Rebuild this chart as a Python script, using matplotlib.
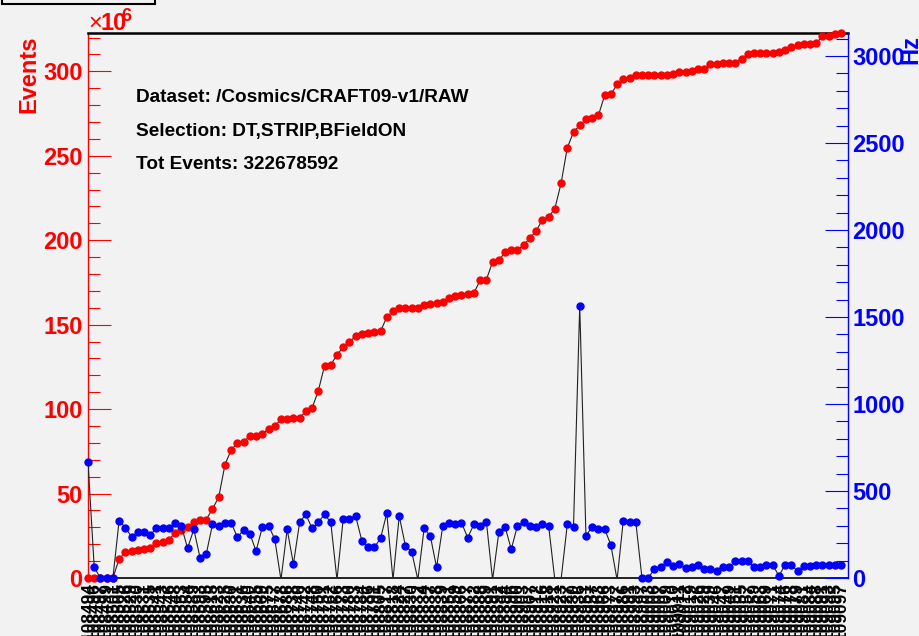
import numpy as np
import matplotlib
matplotlib.use("Agg")
import matplotlib.pyplot as plt
from matplotlib.ticker import MultipleLocator
from matplotlib.patches import Rectangle

plt.rcParams['font.family'] = ['Liberation Sans', 'DejaVu Sans']

# run numbers used as bin labels
runs = [
    "108494", "108496", "108497", "108499", "108501", "108505", "108526", "108529", "108530", "108531",
    "108535", "108541", "108543", "108546", "108548", "108553", "108554", "108589", "108593", "108595",
    "108615", "108623", "108625", "108630", "108631", "108636", "108640", "108655", "108669", "108675",
    "108677", "108678", "108686", "108738", "108740", "108742", "108748", "108750", "108751", "108762",
    "108766", "108773", "108780", "108783", "108784", "108786", "108791", "108805", "108817", "108818",
    "108824", "108827", "108830", "108832", "108834", "108837", "108838", "108839", "108851", "108859",
    "108866", "108877", "108882", "108888", "108889", "108891", "108892", "108894", "108896", "108900",
    "108903", "108907", "108912", "108916", "108918", "108921", "108923", "108927", "108930", "108936",
    "108951", "108957", "108963", "108966", "108973", "108977", "108986", "108991", "108993", "108997",
    "109003", "109006", "109007", "109009", "109010", "109011", "109012", "109019", "109026", "109029",
    "109039", "109046", "109047", "109049", "109051", "109055", "109057", "109059", "109063", "109069",
    "109071", "109074", "109076", "109078", "109079", "109081", "109084", "109088", "109091", "109093",
    "109095", "109097",
]

# cumulative selected events (millions)
events_m = [
    0, 0, 0, 0, 0, 11.3, 15.2, 16.2, 16.8, 17.4,
    17.8, 20.9, 21.3, 22.5, 26.9, 28.5, 30.0, 33.0, 34.4, 34.6,
    40.9, 47.8, 67.0, 75.9, 79.8, 80.8, 83.8, 84.0, 85.4, 88.1,
    89.7, 94.1, 94.2, 94.7, 94.9, 98.6, 100.6, 110.8, 125.7, 126.3,
    132.0, 136.8, 139.7, 143.3, 144.2, 145.0, 145.4, 146.0, 154.5, 157.9,
    159.9, 160.0, 160.0, 160.1, 161.8, 162.4, 162.6, 163.2, 165.8, 166.7,
    167.3, 168.3, 168.8, 176.2, 176.6, 187.1, 188.1, 192.8, 194.0, 194.4,
    197.0, 201.4, 205.3, 212.2, 213.8, 218.7, 233.6, 254.7, 264.0, 268.1,
    271.5, 272.5, 273.9, 285.7, 286.3, 292.2, 295.2, 296.0, 297.6, 297.6,
    297.6, 297.6, 297.6, 297.6, 298.2, 299.5, 299.6, 300.1, 301.5, 301.6,
    304.1, 304.2, 304.7, 305.1, 305.2, 307.5, 310.0, 310.6, 310.7, 311.0,
    311.1, 311.4, 312.6, 314.6, 315.6, 316.0, 316.1, 316.5, 320.9, 321.0,
    321.9, 322.678592,
]

# trigger rate per run (Hz); negative = no valid rate
rate_hz = [
    665, 61, 0, 0, 0, 330, 289, 237, 262, 262,
    247, 289, 289, 289, 314, 299, 171, 280, 117, 138,
    308, 301, 318, 318, 234, 276, 255, 155, 291, 301,
    224, -10, 280, 80, 320, 366, 285, 320, 366, 320,
    -10, 339, 339, 356, 213, 176, 176, 228, 372, -10,
    356, 184, 151, -10, 285, 241, 61, 299, 318, 308,
    318, 232, 308, 301, 324, -10, 262, 295, 165, 301,
    320, 301, 295, 308, 301, -10, -10, 308, 295, 1566,
    241, 295, 282, 282, 190, -10, 330, 320, 324, 0,
    0, 52, 61, 94, 71, 79, 56, 65, 75, 50,
    50, 40, 61, 61, 100, 100, 100, 61, 61, 75,
    75, 13, 75, 75, 40, 69, 69, 75, 75, 75,
    75, 75,
]

tot_events = 322678592
bg = '#f2f2f2'

fig = plt.figure(figsize=(9.19, 6.36), dpi=100, facecolor=bg)
ax = fig.add_axes([88 / 919, 58 / 636, 760 / 919, 545 / 636])
ax.set_facecolor(bg)

x = np.arange(len(runs))
ev = np.array(events_m)
rt = np.array(rate_hz, dtype=float)

ax.plot(x, ev, color='#222222', lw=0.8, zorder=2)
ax.plot(x, ev, 'o', color='red', mec='red', ms=5, zorder=3, clip_on=False)
ax.set_xlim(0, 122.1)
ax.set_ylim(0, tot_events / 1e6)

ax2 = ax.twinx()
ax2.plot(x, rt, color='#222222', lw=0.8, zorder=2)
ax2.plot(x, np.ma.masked_less(rt, 0), 'o', color='blue', mec='blue', ms=5,
         zorder=3, clip_on=False)
ax2.set_ylim(0, 3132)

# left axis (events)
ax.set_yticks(np.arange(0, 301, 50))
ax.yaxis.set_minor_locator(MultipleLocator(10))
ax.tick_params(axis='y', which='major', direction='in', length=16.5, width=0.8,
               color='red', labelcolor='red', labelsize=17, pad=4)
ax.tick_params(axis='y', which='minor', direction='in', length=8.6, width=0.8, color='red')
for lab in ax.get_yticklabels():
    lab.set_fontweight('bold')

# right axis (rate)
ax2.set_yticks(np.arange(0, 3001, 500))
ax2.yaxis.set_minor_locator(MultipleLocator(100))
ax2.tick_params(axis='y', which='major', direction='in', length=16.5, width=0.8,
                color='blue', labelcolor='blue', labelsize=17, pad=3)
ax2.tick_params(axis='y', which='minor', direction='in', length=8.6, width=0.8, color='blue')
for lab in ax2.get_yticklabels():
    lab.set_fontweight('bold')

# run labels under every point, ticks every 10 bins
ax.set_xticks(x, runs, rotation=90, fontsize=12.5, fontweight='bold')
ax.tick_params(axis='x', which='major', length=0, pad=3)
ax.set_xticks(np.arange(0, 121, 10), minor=True)
ax.tick_params(axis='x', which='minor', direction='in', length=11.5, width=0.8, color='black')
for lab in ax.get_xticklabels():
    lab.set_va('top')

for sp in ('top', 'bottom', 'left', 'right'):
    ax2.spines[sp].set_visible(False)
ax.spines['right'].set_visible(False)
ax2.spines['right'].set_visible(True)
ax2.spines['right'].set_color('blue')
ax2.spines['right'].set_linewidth(1.0)
ax.spines['left'].set_color('red')
ax.spines['left'].set_linewidth(1.0)
ax.spines['top'].set_color('black')
ax.spines['top'].set_linewidth(1.8)
ax.spines['bottom'].set_color('black')
ax.spines['bottom'].set_linewidth(1.2)

# axis titles
fig.text(29 / 919, 1 - 74 / 636, 'Events', rotation=90, ha='center', va='center',
         color='red', fontsize=17, fontweight='bold')
fig.text(911 / 919, 1 - 49 / 636, 'Hz', rotation=90, ha='center', va='center',
         color='blue', fontsize=17, fontweight='bold')
fig.text(88 / 919, 1 - 30 / 636, '\u00d7', ha='left', va='baseline', color='red', fontsize=17)
fig.text(101 / 919, 1 - 30 / 636, '10', ha='left', va='baseline', color='red',
         fontsize=17, fontweight='bold')
fig.text(121 / 919, 1 - 21 / 636, '6', ha='left', va='baseline', color='red',
         fontsize=13, fontweight='bold')

# info block
info = ['Dataset: /Cosmics/CRAFT09-v1/RAW',
        'Selection: DT,STRIP,BFieldON',
        'Tot Events: %d' % tot_events]
for i, line in enumerate(info):
    fig.text(136 / 919, 1 - (102 + 33.7 * i) / 636, line, ha='left', va='baseline',
             color='black', fontsize=13.7, fontweight='bold')

# edge of the title box at the canvas top
fig.patches.append(Rectangle((2 / 919, 1 - 4 / 636), 153 / 919, 10 / 636,
                             transform=fig.transFigure, facecolor=bg,
                             edgecolor='black', lw=1.5, clip_on=False))

fig.savefig('out.png', dpi=100, facecolor=bg)
